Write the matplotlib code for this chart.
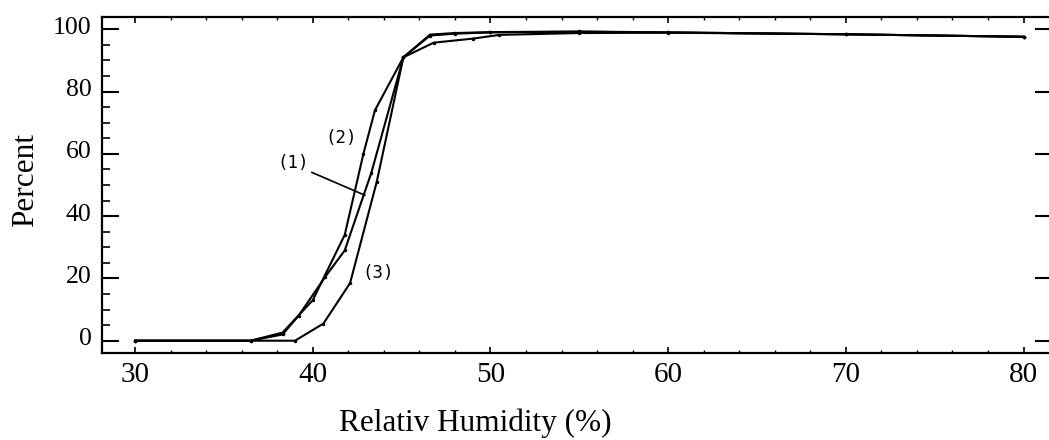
import numpy as np
import matplotlib
matplotlib.use("Agg")
import matplotlib.pyplot as plt
from matplotlib.ticker import MultipleLocator
from matplotlib.transforms import ScaledTranslation

# relative humidity (%) and percent for the three curves
rh_1 = [30, 36.5, 38.3, 39.2, 40.7, 41.8, 43.3, 45.1, 46.6, 48, 50, 55, 60, 70, 80]
pct_1 = [0, 0, 2.0, 8.0, 20.5, 29, 54, 91, 98.0, 98.6, 99.0, 99.2, 99.0, 98.4, 97.6]

rh_2 = [30, 36.5, 38.3, 40.0, 41.8, 42.85, 43.5, 45.1, 46.6, 48, 50, 55, 60, 70, 80]
pct_2 = [0, 0, 2.6, 13, 34, 60, 74, 91, 98.3, 98.8, 99.1, 99.3, 99.0, 98.4, 97.6]

rh_3 = [30, 39.0, 40.6, 42.1, 43.6, 45.1, 46.8, 49, 50.5, 55, 60, 70, 80]
pct_3 = [0, 0, 5.5, 18.5, 51, 91, 95.7, 97.0, 98.2, 98.8, 98.9, 98.4, 97.6]

labels = ["(1)", "(2)", "(3)"]

W, H = 1049, 440
fig = plt.figure(figsize=(W / 100, H / 100), dpi=100)
ax = fig.add_axes([102 / W, 87 / H, 950 / W, 336 / H])

serif = "Liberation Serif"

for x, y in [(rh_2, pct_2), (rh_1, pct_1), (rh_3, pct_3)]:
    ax.plot(x, y, color="black", lw=1.5, marker=".", ms=3)

ax.set_xlim(28.14, 81.6)
ax.set_ylim(-3.95, 103.95)

# curve labels
mono = dict(family="DejaVu Sans Mono", fontsize=12.5, ha="center", va="center")
ax.annotate(labels[0], xy=(42.94, 46.7), xytext=(38.9, 57.2),
            arrowprops=dict(arrowstyle="-", lw=1.2, color="black",
                            shrinkA=0, shrinkB=0, relpos=(0.9, 0.1)), **mono)
ax.text(41.6, 65, labels[1], **mono)
ax.text(43.7, 21.6, labels[2], **mono)

# spines and ticks (right spine falls just outside the scan)
for s in ["left", "bottom", "top"]:
    ax.spines[s].set_linewidth(1.6)
ax.spines["right"].set_visible(False)

ax.xaxis.set_major_locator(MultipleLocator(10))
ax.xaxis.set_minor_locator(MultipleLocator(2))
ax.yaxis.set_major_locator(MultipleLocator(20))
ax.yaxis.set_minor_locator(MultipleLocator(5))

ax.tick_params(axis="x", which="both", direction="in", top=True, bottom=True)
ax.tick_params(axis="x", which="major", length=4.5, width=1.2, pad=6.5,
               labelsize=21)
ax.tick_params(axis="x", which="minor", length=2, width=1)
ax.tick_params(axis="y", which="both", direction="in", left=True, right=True)
ax.tick_params(axis="y", which="major", length=12, width=1.5, pad=7.5,
               labelsize=18.5)
ax.tick_params(axis="y", which="minor", length=6, width=1.2, right=False)

for lab in ax.get_xticklabels() + ax.get_yticklabels():
    lab.set_family(serif)
for lab in ax.get_yticklabels():
    lab.set_transform(lab.get_transform() +
                      ScaledTranslation(0, 4 / 100, fig.dpi_scale_trans))

ax.set_xlabel("Relativ Humidity (%)", family=serif, fontsize=22.5)
ax.xaxis.set_label_coords((475 - 102) / 950, -(431 - 353) / 336)
ax.xaxis.label.set_va("baseline")

ax.set_ylabel("Percent", family=serif, fontsize=22.5)
ax.yaxis.set_label_coords((33 - 102) / 950, (353 - 180) / 336)
ax.yaxis.label.set_va("baseline")

fig.savefig("out.png", dpi=100)
